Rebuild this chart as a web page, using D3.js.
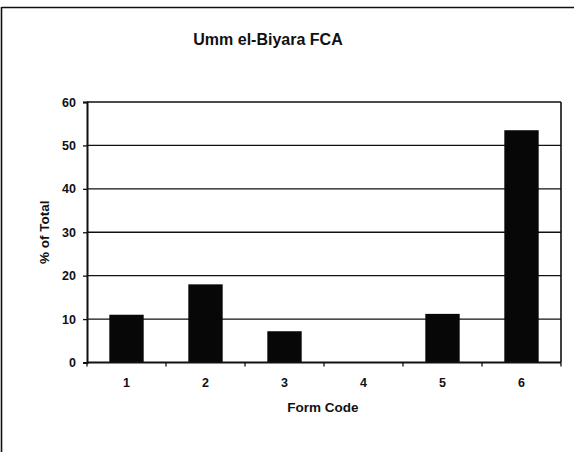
<!DOCTYPE html>
<html>
<head>
<meta charset="utf-8">
<script src="https://cdn.jsdelivr.net/npm/d3@7"></script>
<style>
  html, body { margin: 0; padding: 0; background: #fff; }
  svg { display: block; font-family: "Liberation Sans", Arial, Helvetica, sans-serif; }
</style>
</head>
<body>
<svg id="chart" width="576" height="452"></svg>
<script>
// Form code categories and share of total (%)
const categories = ["1", "2", "3", "4", "5", "6"];
const percentOfTotal = [11.0, 18.0, 7.2, 0, 11.2, 53.5];
const yTicks = [0, 10, 20, 30, 40, 50, 60];

const titleText = "Umm el-Biyara FCA";
const xTitle = "Form Code";
const yTitle = "% of Total";

const svg = d3.select("#chart");
const W = 576, H = 452;
const plot = { left: 87, right: 561, top: 102, bottom: 362.5 };

// Outer frame (top and left edges)
svg.append("line").attr("x1", 1.5).attr("x2", 574).attr("y1", 7.5).attr("y2", 7.5)
  .attr("stroke", "#111").attr("stroke-width", 1.6);
svg.append("line").attr("x1", 1.5).attr("x2", 1.5).attr("y1", 7).attr("y2", H)
  .attr("stroke", "#111").attr("stroke-width", 1.6);

// Title
svg.append("text").attr("x", 268).attr("y", 45).attr("text-anchor", "middle")
  .attr("font-size", 16).attr("font-weight", "bold").attr("fill", "#111")
  .text(titleText);

const x = d3.scaleBand().domain(categories).range([plot.left, plot.right])
  .paddingInner(0.565).paddingOuter(0.2825);
const y = d3.scaleLinear().domain([0, 60]).range([plot.bottom, plot.top]);

// Gridlines
svg.append("g").selectAll("line").data(yTicks.filter(d => d > 0)).join("line")
  .attr("x1", plot.left).attr("x2", plot.right)
  .attr("y1", d => y(d)).attr("y2", d => y(d))
  .attr("stroke", "#111").attr("stroke-width", 1.3);

// Plot area right border
svg.append("line").attr("x1", plot.right).attr("x2", plot.right)
  .attr("y1", plot.top).attr("y2", plot.bottom)
  .attr("stroke", "#111").attr("stroke-width", 1.6);

// Bars
svg.append("g").selectAll("rect").data(percentOfTotal).join("rect")
  .attr("x", (d, i) => x(categories[i]))
  .attr("width", x.bandwidth())
  .attr("y", d => y(d))
  .attr("height", d => plot.bottom - y(d))
  .attr("fill", "#070707");

// Y axis
const yAxis = svg.append("g").attr("transform", `translate(${plot.left},0)`)
  .call(d3.axisLeft(y).tickValues(yTicks).tickSize(4).tickPadding(7));
yAxis.select(".domain").attr("stroke", "#111").attr("stroke-width", 2);
yAxis.selectAll(".tick line").attr("stroke", "#111").attr("stroke-width", 1.3);
yAxis.selectAll("text").attr("font-size", 12.5).attr("font-weight", "bold")
  .attr("fill", "#111").attr("font-family", "Liberation Sans, Arial, sans-serif");

// X axis: ticks sit between categories
const xAxisG = svg.append("g").attr("transform", `translate(0,${plot.bottom})`);
const step = x.step();
const boundaries = d3.range(categories.length + 1).map(i => plot.left + i * step);
xAxisG.append("line").attr("x1", plot.left).attr("x2", plot.right)
  .attr("stroke", "#111").attr("stroke-width", 2);
xAxisG.selectAll("line.tk").data(boundaries).join("line").attr("class", "tk")
  .attr("x1", d => d).attr("x2", d => d).attr("y1", 0).attr("y2", 4)
  .attr("stroke", "#111").attr("stroke-width", 1.3);
xAxisG.selectAll("text.lbl").data(categories).join("text").attr("class", "lbl")
  .attr("x", d => x(d) + x.bandwidth() / 2).attr("y", 24.5)
  .attr("text-anchor", "middle").attr("font-size", 12.5).attr("font-weight", "bold")
  .attr("fill", "#111").text(d => d);

// Axis titles
svg.append("text").attr("x", 323).attr("y", 412)
  .attr("text-anchor", "middle").attr("font-size", 13.5).attr("font-weight", "bold")
  .attr("fill", "#111").text(xTitle);
svg.append("text").attr("transform", `translate(49,${(plot.top + plot.bottom) / 2}) rotate(-90)`)
  .attr("text-anchor", "middle").attr("font-size", 13.5).attr("font-weight", "bold")
  .attr("fill", "#111").text(yTitle);
</script>
</body>
</html>
